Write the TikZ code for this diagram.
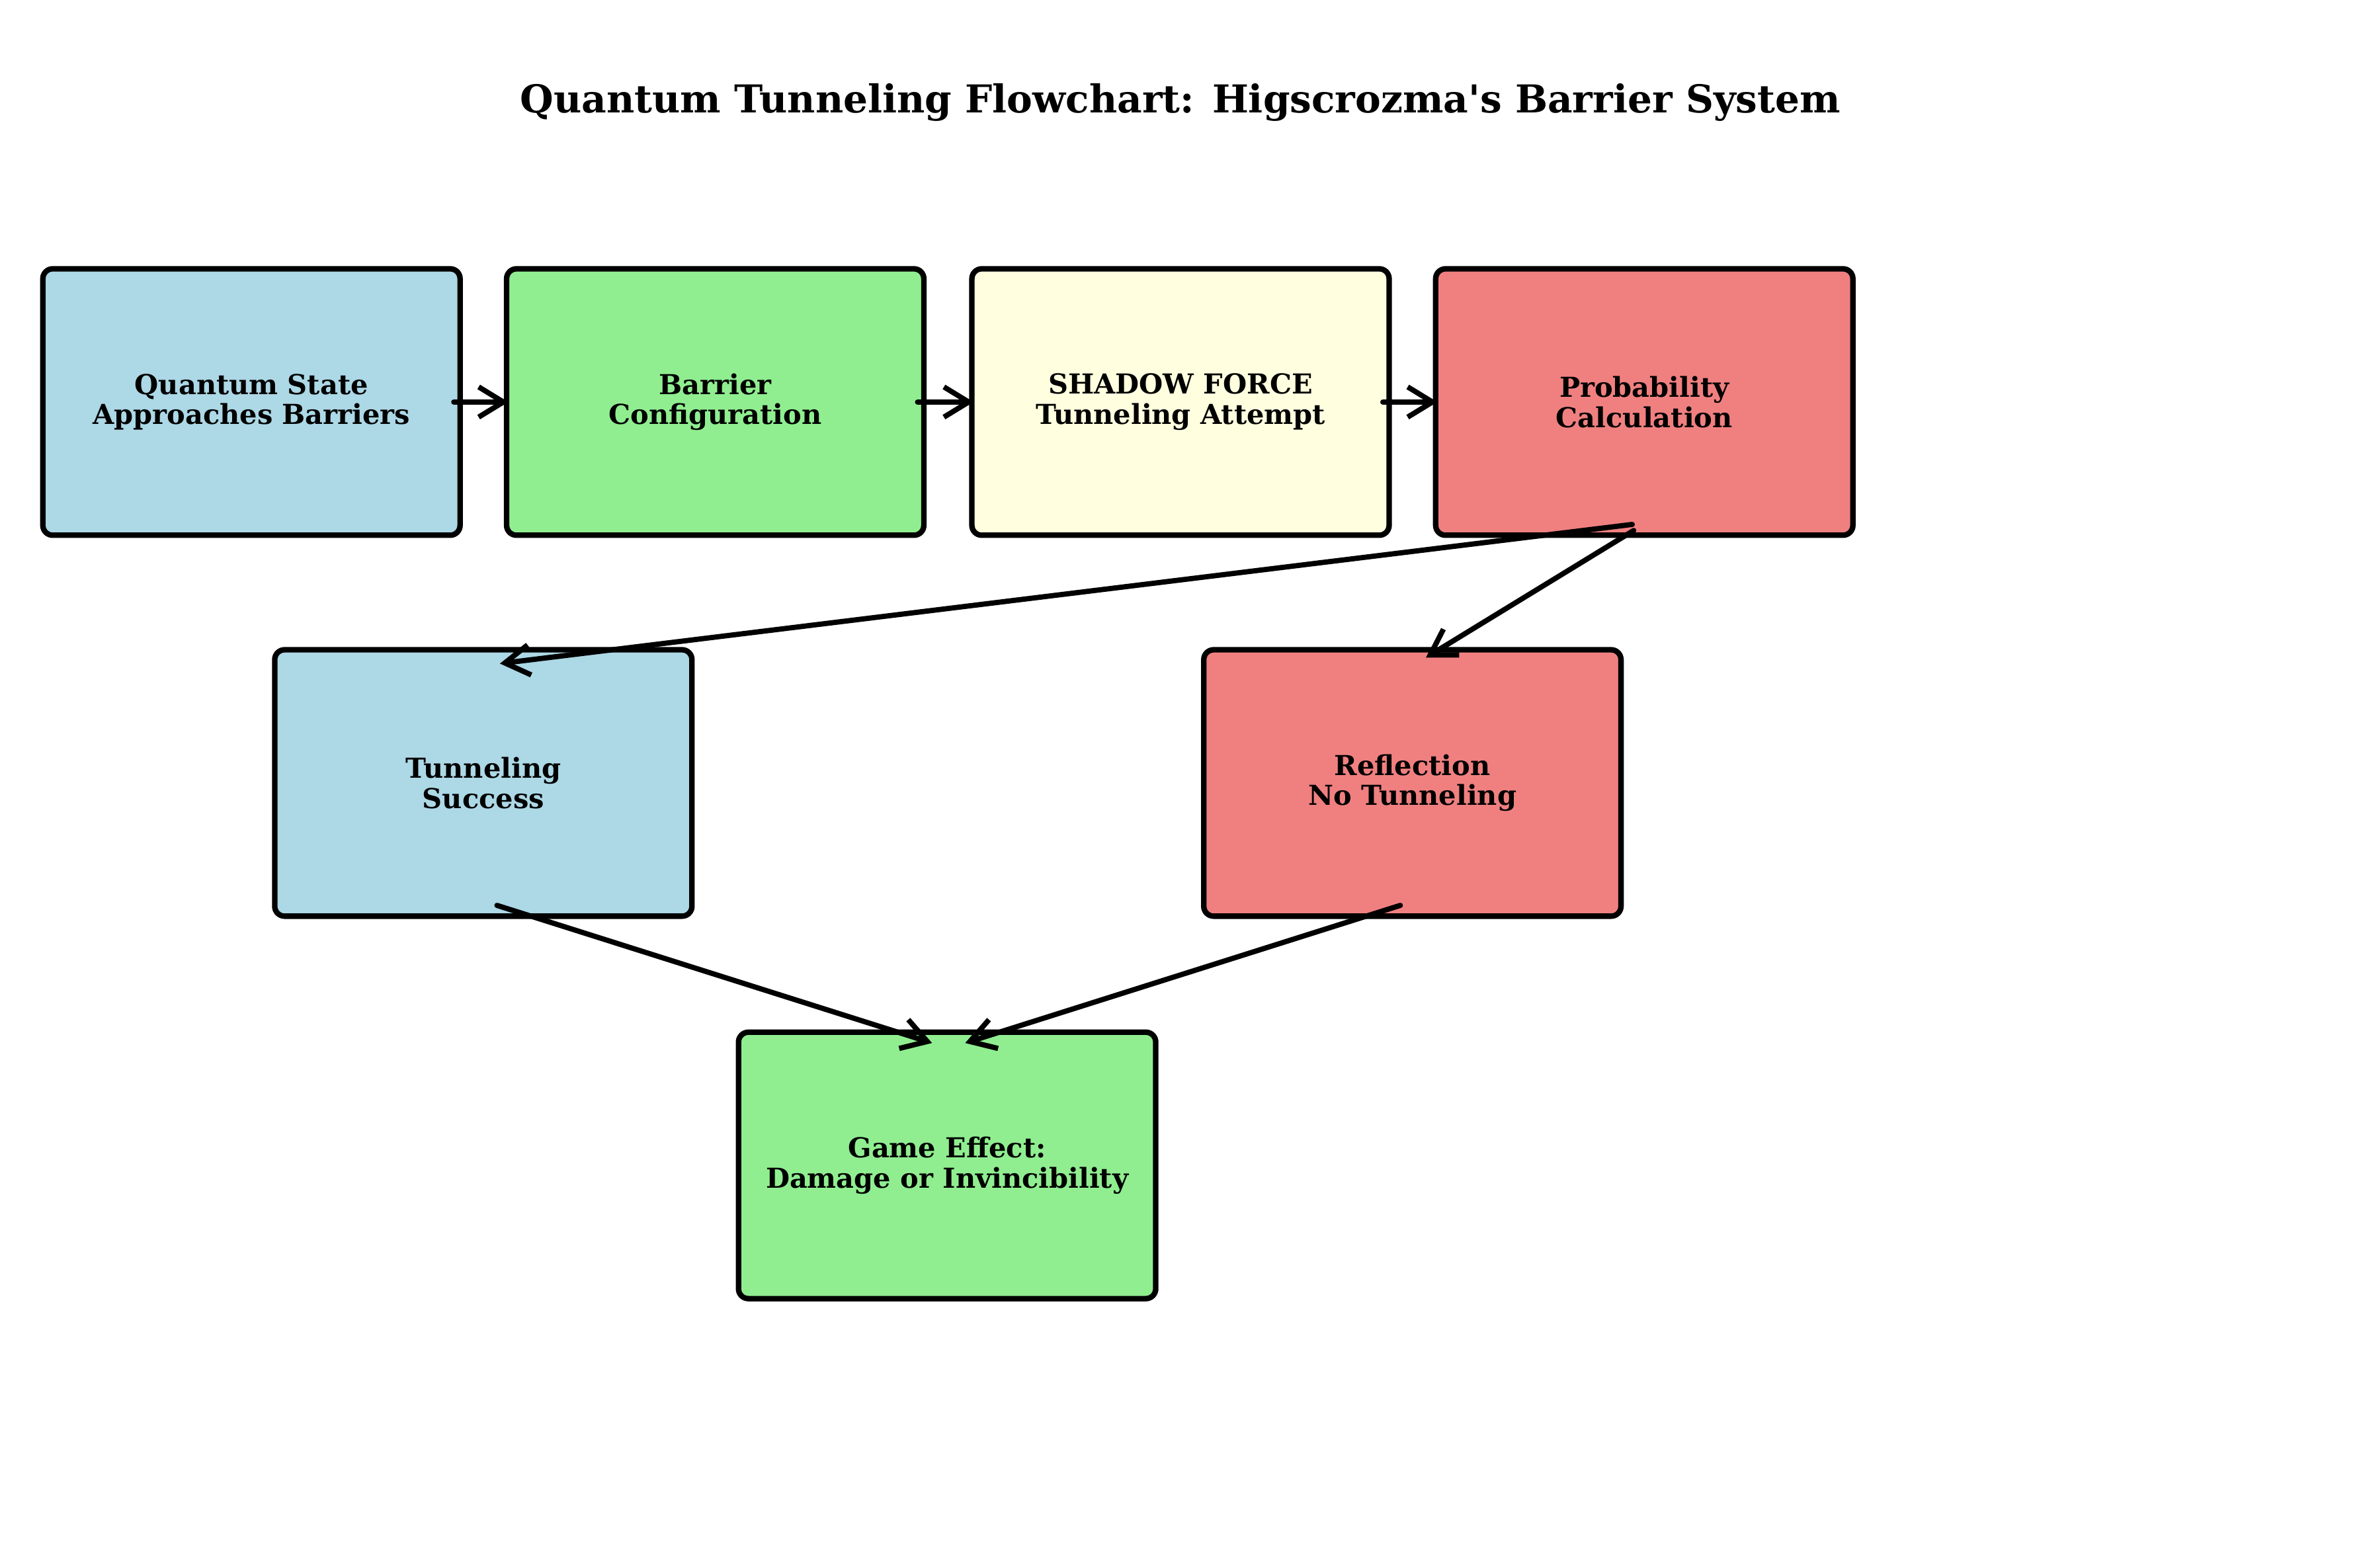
\documentclass[tikz,border=0pt]{standalone}
\usepackage{fontspec}
\setmainfont{DejaVu Serif}
\usetikzlibrary{arrows.meta,calc}
\definecolor{stateblue}{RGB}{173,216,230}
\definecolor{stepgreen}{RGB}{144,238,144}
\definecolor{shadowyellow}{RGB}{255,255,224}
\definecolor{probred}{RGB}{240,128,128}
\begin{document}
\begin{tikzpicture}[x=0.019277cm,y=-0.019277cm,
        stepbox/.style={draw,line width=2pt,rounded corners=3.6pt,
            minimum width=5.34cm,minimum height=3.41cm,inner sep=0pt,
            align=center,font=\bfseries\fontsize{10}{11}\selectfont},
        flow/.style={-{Straight Barb[length=9pt,width=11pt]},
            line width=1.9pt,line cap=round}]
    \useasboundingbox (0,0) rectangle (1568,1041);

    \node[font=\bfseries\fontsize{14}{17}\selectfont] (title) at (784,68)
        {Quantum Tunneling Flowchart: Higscrozma\textquotesingle s Barrier System};

    % top row
    \node[stepbox,fill=stateblue] (state) at (167,267)
        {Quantum State\\Approaches Barriers};
    \node[stepbox,fill=stepgreen] (barrier) at (475,267)
        {Barrier\\Configuration};
    \node[stepbox,fill=shadowyellow] (shadow) at (784,267)
        {SHADOW FORCE\\Tunneling Attempt};
    \node[stepbox,fill=probred] (prob) at (1092,267)
        {Probability\\Calculation};

    % outcomes
    \node[stepbox,fill=stateblue] (success) at (321,520)
        {Tunneling\\Success};
    \node[stepbox,fill=probred] (reflect) at (938,520)
        {Reflection\\No Tunneling};
    \node[stepbox,fill=stepgreen] (effect) at (629,774)
        {Game Effect:\\Damage or Invincibility};

    \draw[flow] ($(state.east)+(-6,0)$) -- ($(barrier.west)+(3,0)$);
    \draw[flow] ($(barrier.east)+(-6,0)$) -- ($(shadow.west)+(3,0)$);
    \draw[flow] ($(shadow.east)+(-6,0)$) -- ($(prob.west)+(3,0)$);

    \draw[flow] ($(prob.south)+(-8,-9)$) -- ($(success.north)+(11,11)$);
    \draw[flow] ($(prob.south)+(-7,-5)$) -- ($(reflect.north)+(9,7)$);
    \draw[flow] ($(success.south)+(9,-9)$) -- ($(effect.north)+(-10,9)$);
    \draw[flow] ($(reflect.south)+(-8,-9)$) -- ($(effect.north)+(12,9)$);
\end{tikzpicture}
\end{document}
